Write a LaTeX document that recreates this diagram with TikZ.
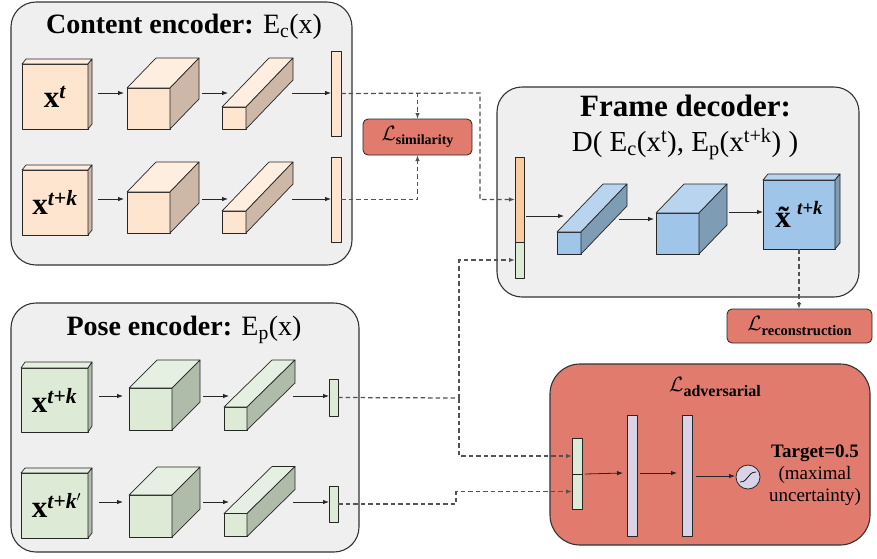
\documentclass[tikz,border=0pt]{standalone}
\usepackage{fontspec}
\setmainfont{Liberation Serif}
\usetikzlibrary{arrows.meta,calc}
\definecolor{panelgray}{HTML}{EFEFEF}
\definecolor{pchF}{HTML}{FDE5D0}
\definecolor{pchT}{HTML}{FEEEDF}
\definecolor{pchS}{HTML}{CDB7A6}
\definecolor{grnF}{HTML}{DCEAD6}
\definecolor{grnT}{HTML}{E6F0E2}
\definecolor{grnS}{HTML}{AEBCA9}
\definecolor{bluF}{HTML}{9FC5E8}
\definecolor{bluT}{HTML}{B8D4EE}
\definecolor{bluS}{HTML}{7F9CB5}
\definecolor{orgbar}{HTML}{F9CBA0}
\definecolor{lossred}{HTML}{E07B6E}
\definecolor{purp}{HTML}{D9D3E8}
% #1 name, #2 centre, #3 w, #4 h, #5 dx, #6 dy, #7 colour prefix, #8 text
\newcommand\cuboid[8]{%
  \node[blkface, fill=#7F, minimum width=#3pt, minimum height=#4pt] (#1) at (#2) {#8};
  \filldraw[blkface, fill=#7T] (#1.north west) -- ++(#5,#6) -- ++(#3,0) -- (#1.north east) -- cycle;
  \filldraw[blkface, fill=#7S] (#1.north east) -- ++(#5,#6) -- ++(0,#4) -- (#1.south east) -- cycle;
}
\newcommand\insize{\fontsize{31}{33}\selectfont}
\newcommand\inlab[1]{\textbf{x}\textsuperscript{\bfseries\itshape #1}}
\newcommand\losslab[2]{{\fontsize{#2}{#2}\selectfont$\mathcal{L}$}\raisebox{-0.3em}{\bfseries #1}}
\begin{document}
\begin{tikzpicture}[x=1pt,y=-1pt,
  blkface/.style={draw=black!85, line width=0.7pt, line join=round, inner sep=0pt, outer sep=0pt},
  panel/.style={draw=black!80, line width=1.1pt, fill=panelgray, rounded corners=25pt, inner sep=0pt, outer sep=0pt},
  arr/.style={-{Latex[length=6pt,width=4.5pt]}, line width=0.8pt, draw=black!85},
  dsh/.style={dash pattern=on 4.5pt off 3pt, line width=1.25pt, draw=black!68},
  dsharr/.style={dsh, -{Latex[length=6pt,width=4.5pt]}},
  lossbox/.style={draw=black!85, line width=0.8pt, fill=lossred, rounded corners=5pt, inner sep=0pt, outer sep=0pt},
  vbar/.style={blkface},
  ttl/.style={font=\fontsize{28}{30}\selectfont, anchor=base}
]
\useasboundingbox (0,0) rectangle (877,558);

% ---------- panels ----------
\node[panel, minimum width=341pt, minimum height=263pt] (cep) at (181.5,133.5) {};
\node[panel, minimum width=348pt, minimum height=249pt] (pep) at (185,427.5) {};
\node[panel, minimum width=362pt, minimum height=210pt] (fdp) at (678,192) {};
\node[panel, fill=lossred, rounded corners=30pt, minimum width=320pt, minimum height=181pt] (adp) at (710,454.5) {};

% ---------- titles ----------
\node[ttl] (cet) at (184,33.5) {\textbf{Content encoder:} E\textsubscript{c}(x)};
\node[ttl] (pet) at (184,335.5) {\textbf{Pose encoder:} E\textsubscript{p}(x)};
\node[ttl, font=\fontsize{31}{33}\selectfont] (fdt) at (685.5,116.5) {\textbf{Frame decoder:}};
\node[ttl, font=\fontsize{29}{31}\selectfont] (fdt2) at (685,151.5) {D( E\textsubscript{c}(x\textsuperscript{t}), E\textsubscript{p}(x\textsuperscript{t+k}) )};
\node[font=\fontsize{16}{16}\selectfont] (adt) at (715,387) {\losslab{adversarial}{22}};

% ---------- content encoder ----------
\coordinate (r1) at (0,93);
\coordinate (r2) at (0,199);
\cuboid{sq1}{55,96.5}{66}{65}{4}{-5}{pch}{\insize\inlab{t}}
\cuboid{cu1}{148.5,108.5}{43}{41}{29}{-30}{pch}{}
\cuboid{ba1}{234,118}{24}{22}{47}{-49}{pch}{}
\node[vbar, fill=pchF, minimum width=10pt, minimum height=85pt] (vb1) at (336,93.5) {};
\cuboid{sq2}{55,202.5}{66}{65}{4}{-5}{pch}{\insize\inlab{t+k}}
\cuboid{cu2}{148.5,212.5}{43}{41}{29}{-30}{pch}{}
\cuboid{ba2}{234,222}{24}{22}{47}{-49}{pch}{}
\node[vbar, fill=pchF, minimum width=10pt, minimum height=85pt] (vb2) at (336,199.5) {};
\foreach \r/\a/\b/\c/\d in {r1/sq1/cu1/ba1/vb1, r2/sq2/cu2/ba2/vb2}{
  \draw[arr] ($(\a.east |- \r)+(10,0)$) -- ($(\b.west |- \r)+(-3,0)$);
  \draw[arr] ($(\b.east |- \r)+(32,0)$) -- ($(\c.west |- \r)+(6,0)$);
  \draw[arr] ($(\c.east |- \r)+(46,0)$) -- (\d.west |- \r);
}

% ---------- similarity ----------
\node[lossbox, minimum width=109pt, minimum height=36pt, font=\fontsize{14}{14}\selectfont] (sim) at (417.5,137) {\losslab{similarity}{20}};

% ---------- frame decoder ----------
\node[vbar, fill=orgbar, minimum width=9pt, minimum height=85pt] (dbo) at (519.5,199.5) {};
\node[vbar, fill=grnF, minimum width=9pt, minimum height=36pt] (dbg) at (519.5,260) {};
\cuboid{db1}{569,243}{24}{22}{46}{-48}{blu}{}
\cuboid{db2}{677.5,233.5}{43}{41}{28}{-29}{blu}{}
\cuboid{dsq}{799,214.5}{72}{69}{5}{-6}{blu}{\insize\textbf{x^^^^0303}\hspace{-4pt}\raisebox{0.42em}{\fontsize{19}{19}\selectfont\bfseries\itshape t+k}}
\coordinate (r3) at (0,216);
\coordinate (r4) at (0,219);
\coordinate (r5) at (0,212);
\draw[arr] ($(dbo.east |- r3)+(2,0)$) -- ($(db1.west |- r3)+(7,0)$);
\draw[arr] ($(db1.east |- r4)+(38,0)$) -- ($(db2.west |- r4)+(-2,0)$);
\draw[arr] ($(db2.east |- r5)+(30,0)$) -- (dsq.west |- r5);
\node[lossbox, minimum width=145pt, minimum height=34pt, font=\fontsize{14.5}{14.5}\selectfont] (rec) at (799.5,326) {\losslab{reconstruction}{20}};
\draw[dsharr] (dsq.south) -- (dsq.south |- rec.north);

% ---------- pose encoder ----------
\coordinate (p1) at (0,396);
\coordinate (p2) at (0,502);
\cuboid{psq1}{54.5,400}{67}{64}{4}{-6}{grn}{\insize\inlab{t+k}}
\cuboid{pcu1}{150.5,409}{43}{42}{28}{-28}{grn}{}
\cuboid{pba1}{235.5,418.5}{23}{23}{48}{-47}{grn}{}
\node[vbar, fill=grnF, minimum width=9pt, minimum height=37pt] (pvb1) at (333.5,397.5) {};
\cuboid{psq2}{54.5,505.5}{67}{65}{4}{-5}{grn}{\insize\inlab{t+k\rlap{$'$}}\hspace{3pt}}
\cuboid{pcu2}{150.5,516}{43}{42}{28}{-28}{grn}{}
\cuboid{pba2}{235.5,525}{23}{23}{48}{-47}{grn}{}
\node[vbar, fill=grnF, minimum width=9pt, minimum height=36pt] (pvb2) at (333.5,504) {};
\foreach \r/\a/\b/\c/\d in {p1/psq1/pcu1/pba1/pvb1, p2/psq2/pcu2/pba2/pvb2}{
  \draw[arr] ($(\a.east |- \r)+(11,0)$) -- ($(\b.west |- \r)+(-6,0)$);
  \draw[arr] ($(\b.east |- \r)+(31,0)$) -- ($(\c.west |- \r)+(5,0)$);
  \draw[arr] ($(\c.east |- \r)+(46,0)$) -- (\d.west |- \r);
}

% ---------- adversarial ----------
\node[vbar, fill=grnF, minimum width=10pt, minimum height=36pt] (ag1) at (577,456) {};
\node[vbar, fill=grnF, minimum width=10pt, minimum height=35pt] (ag2) at (577,491.5) {};
\node[vbar, fill=purp, minimum width=10pt, minimum height=121pt] (pb1) at (632,475.5) {};
\node[vbar, fill=purp, minimum width=10pt, minimum height=121pt] (pb2) at (687,475.5) {};
\node[circle, draw=black!85, line width=0.8pt, fill=purp, minimum size=24pt, inner sep=0pt, outer sep=0pt] (sig) at (748,477) {};
\draw[line width=0.7pt] ([shift={(-8,5)}]sig.center) .. controls ([shift={(1,5)}]sig.center) and ([shift={(-1,-5)}]sig.center) .. ([shift={(8,-5)}]sig.center);
\coordinate (a1) at (0,473);
\coordinate (a2) at (0,476);
\draw[arr] ($(ag1.south east)+(3,0)$) -- ($(pb1.west |- a1)+(-4,0)$);
\draw[arr] ($(pb1.east |- a1)+(3,0)$) -- ($(pb2.west |- a1)+(-5,0)$);
\draw[arr] ($(pb2.east |- a2)+(4,0)$) -- ($(sig.west |- a2)+(-1,0)$);
\node[font=\fontsize{19}{22}\selectfont, align=center] (tgt) at (815,475) {\textbf{Target=0.5}\\(maximal\\uncertainty)};

% ---------- dashed connectors ----------
\coordinate (j1) at (480,93);
\coordinate (j2) at (459,398);
\coordinate (j3) at (456,498);
\draw[dsharr] (vb1.east) -| (sim.north);
\draw[dsharr] (vb1.east) -- (j1) |- (dbo.west);
\draw[dsharr] (vb2.east) -| (sim.south);
\draw[dsh] (pvb1.east) -- (j2);
\draw[dsharr] (j2) |- (dbg.west);
\draw[dsharr] (j2) |- (ag1.west);
\draw[dsharr] (pvb2.east) -| (j3) |- (ag2.west);
\end{tikzpicture}
\end{document}
